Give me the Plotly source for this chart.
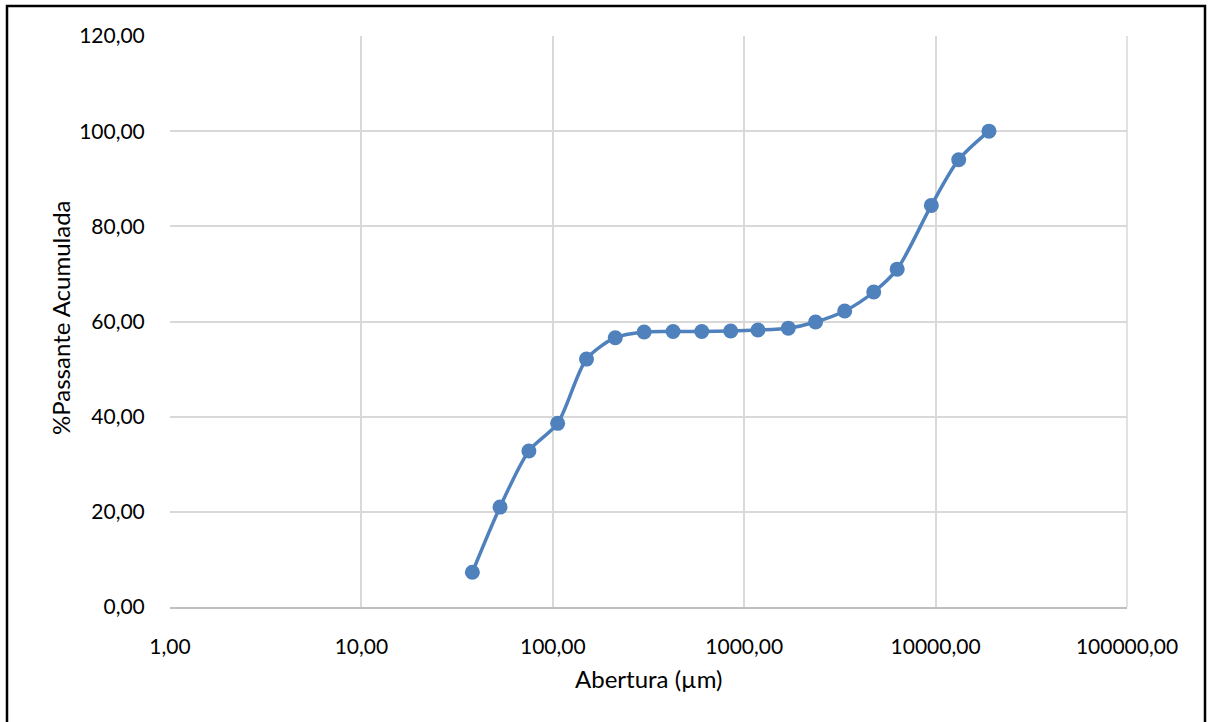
import plotly.graph_objects as go

# Sieve openings (µm) and cumulative passing (%)
abertura = [38, 53, 75, 106, 150, 212, 300, 425, 600, 850, 1180, 1700,
            2360, 3350, 4750, 6300, 9500, 13200, 19000]
passante = [7.3, 21.0, 32.8, 38.6, 52.1, 56.6, 57.8, 57.9, 57.9, 58.0, 58.2,
            58.6, 59.9, 62.2, 66.2, 71.0, 84.4, 94.0, 100.0]

x_ticks = [1, 10, 100, 1000, 10000, 100000]
x_tick_labels = ["1,00", "10,00", "100,00", "1000,00", "10000,00", "100000,00"]
y_ticks = [0, 20, 40, 60, 80, 100, 120]

W, H = 1210, 722
L, R, T, B = 170, 83, 36, 115
pw, ph = W - L - R, H - T - B

family = "Lato, 'Open Sans', sans-serif"
font = dict(family=family, size=21, color="#000000")
title_font = dict(family=family, size=24, color="#000000")
grid = "#d9d9d9"


def px_x(px):
    return (px - L) / pw


def px_y(py):
    return (H - B - py) / ph


fig = go.Figure()
fig.add_trace(go.Scatter(
    x=abertura, y=passante, mode="lines+markers",
    line=dict(color="#4f81bd", width=3.5, shape="spline", smoothing=0.8),
    marker=dict(color="#4f81bd", size=15, line=dict(width=0)),
    showlegend=False, hoverinfo="x+y",
))

fig.update_layout(
    width=W, height=H,
    margin=dict(l=L, r=R, t=T, b=B, pad=0),
    paper_bgcolor="white", plot_bgcolor="white",
    font=font, separators=",.",
    xaxis=dict(
        type="log", range=[0, 5], tickvals=x_ticks, ticktext=x_tick_labels,
        showgrid=True, gridcolor=grid, gridwidth=1.5,
        showline=True, linecolor="#bfbfbf", linewidth=1.5, mirror=False,
        zeroline=False, ticks="outside", ticklen=20, tickcolor="rgba(0,0,0,0)",
    ),
    yaxis=dict(
        range=[0, 120], tickvals=y_ticks, tickformat=".2f",
        showgrid=True, gridcolor=grid, gridwidth=1.5,
        showline=False, zeroline=False,
        ticks="outside", ticklen=20, tickcolor="rgba(0,0,0,0)",
    ),
    annotations=[
        dict(text="Abertura (µm)", xref="paper", yref="paper",
             x=0.5, y=px_y(678), xanchor="center", yanchor="middle",
             showarrow=False, font=title_font),
        dict(text="%Passante Acumulada", xref="paper", yref="paper",
             x=px_x(60), y=px_y(318), xanchor="center", yanchor="middle",
             textangle=-90, showarrow=False, font=title_font),
    ],
    shapes=[
        # right edge of plot area
        dict(type="line", xref="paper", yref="paper", x0=1, x1=1, y0=0, y1=1,
             line=dict(color=grid, width=1.5)),
        # frame around the chart
        dict(type="rect", xref="paper", yref="paper",
             x0=px_x(7), x1=px_x(1205), y0=px_y(760), y1=px_y(6),
             line=dict(color="#000000", width=2.5), fillcolor="rgba(0,0,0,0)",
             layer="above"),
    ],
)

fig.write_html("out.html")
